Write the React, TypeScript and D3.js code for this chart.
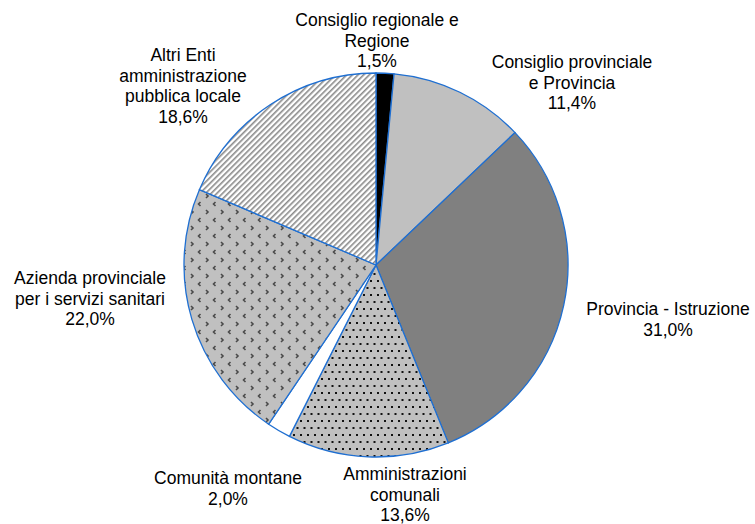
import React from "react";
import * as d3 from "d3";

const categories = [
  "Consiglio regionale e Regione",
  "Consiglio provinciale e Provincia",
  "Provincia - Istruzione",
  "Amministrazioni comunali",
  "Comunità montane",
  "Azienda provinciale per i servizi sanitari",
  "Altri Enti amministrazione pubblica locale",
];
const values = [1.5, 11.4, 31.0, 13.6, 2.0, 22.0, 18.6];
const labelLines = [
  ["Consiglio regionale e", "Regione"],
  ["Consiglio provinciale", "e Provincia"],
  ["Provincia - Istruzione"],
  ["Amministrazioni", "comunali"],
  ["Comunità montane"],
  ["Azienda provinciale", "per i servizi sanitari"],
  ["Altri Enti", "amministrazione", "pubblica locale"],
];
const fills = [
  "#000000",
  "#c0c0c0",
  "#808080",
  "url(#dots)",
  "#ffffff",
  "url(#chev)",
  "url(#stripes)",
];
// label anchor (center x, first-line y) in px
const labelPos: [number, number][] = [
  [377, 26],
  [572, 68],
  [668, 315],
  [405, 480],
  [228, 484],
  [90, 284],
  [183, 61],
];

const W = 755;
const H = 524;
const cx = 376;
const cy = 265;
const R = 192;
const LH = 20.6;

export default function App() {
  const pie = d3
    .pie<number>()
    .sort(null)
    .value((d) => d);
  const arcs = pie(values);
  const arc = d3.arc<d3.PieArcDatum<number>>().innerRadius(0).outerRadius(R);
  const fmt = (v: number) => v.toFixed(1).replace(".", ",") + "%";

  return (
    <svg
      width={W}
      height={H}
      style={{ position: "absolute", left: 0, top: 0 }}
      fontFamily="Liberation Sans, Arial, sans-serif"
    >
      <defs>
        <pattern id="dots" width="7" height="14" patternUnits="userSpaceOnUse">
          <rect width="7" height="14" fill="#c0c0c0" />
          <rect x="1" y="1" width="2" height="2" fill="#111" />
          <rect x="4.5" y="8" width="2" height="2" fill="#111" />
        </pattern>
        <pattern id="chev" width="15" height="16" patternUnits="userSpaceOnUse">
          <rect width="15" height="16" fill="#c0c0c0" />
          <path d="M4.5 1 L2.5 3 L4.5 5" stroke="#4a4a4a" strokeWidth="1.6" fill="none" />
          <path d="M10 9 L12 11 L10 13" stroke="#4a4a4a" strokeWidth="1.6" fill="none" />
        </pattern>
        <pattern
          id="stripes"
          width="4"
          height="4"
          patternUnits="userSpaceOnUse"
          patternTransform="rotate(45)"
        >
          <rect width="4" height="4" fill="#ffffff" />
          <rect x="0" y="0" width="1.6" height="4" fill="#8a8a8a" />
        </pattern>
      </defs>
      <rect width={W} height={H} fill="#fff" />
      <g transform={`translate(${cx},${cy})`}>
        {arcs.map((a, i) => (
          <path
            key={categories[i]}
            d={arc(a) || ""}
            fill={fills[i]}
            stroke="#1f6fd1"
            strokeWidth={1.3}
          />
        ))}
      </g>
      {labelLines.map((lines, i) => {
        const [x, y] = labelPos[i];
        const all = [...lines, fmt(values[i])];
        return (
          <text
            key={categories[i]}
            x={x}
            y={y}
            textAnchor="middle"
            fontSize={17.5}
            fill="#000"
          >
            {all.map((t, j) => (
              <tspan key={j} x={x} y={y + j * LH}>
                {t}
              </tspan>
            ))}
          </text>
        );
      })}
    </svg>
  );
}
